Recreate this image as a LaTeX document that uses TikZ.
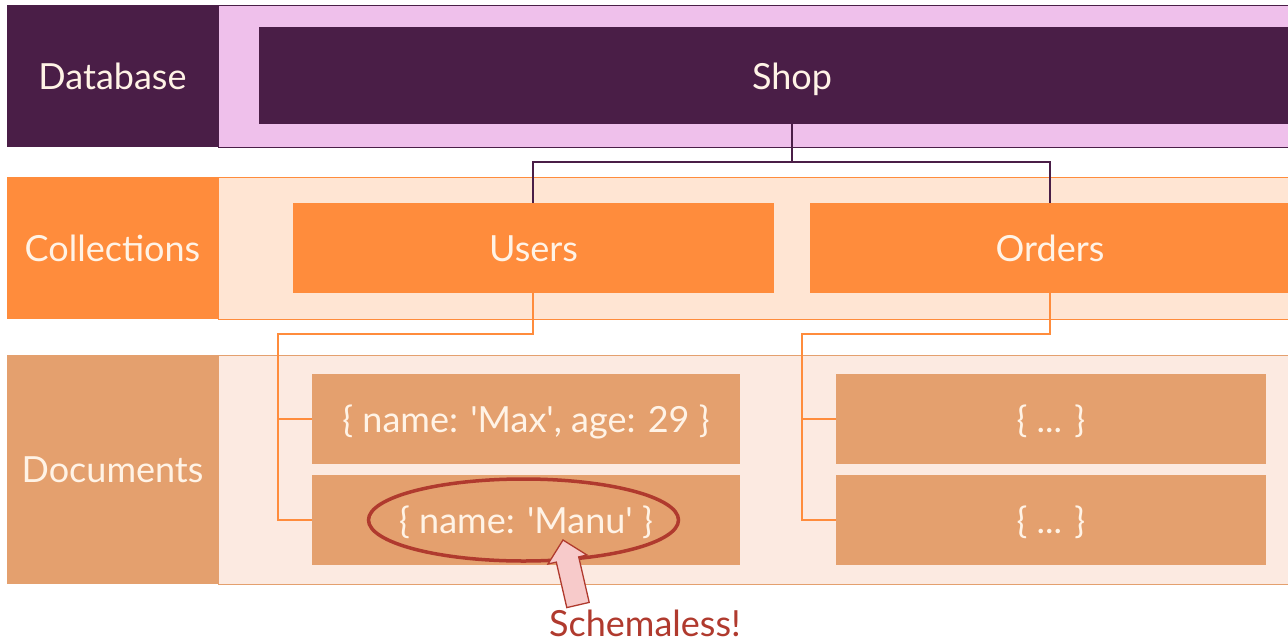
\documentclass[tikz,border=0pt]{standalone}
\usepackage{fontspec}
\setmainfont{Lato}
\definecolor{dbdark}{HTML}{4A1E47}
\definecolor{dbpink}{HTML}{EFC0EB}
\definecolor{colorange}{HTML}{FF8C3C}
\definecolor{collight}{HTML}{FFE5D3}
\definecolor{doctan}{HTML}{E4A06E}
\definecolor{doclight}{HTML}{FCEAE1}
\definecolor{txtcream}{HTML}{FFF3E6}
\definecolor{markred}{HTML}{B03A2E}
\definecolor{arrowpink}{HTML}{F7CACA}
\newcommand{\sq}{\textquotesingle}
\begin{document}
\begin{tikzpicture}[x=1pt,y=-1pt,
  lbl/.style={inner sep=0pt, outer sep=0pt, text=txtcream, text height=26pt, text depth=0pt, font=\fontsize{36}{40}\selectfont},
  boxnode/.style={lbl, anchor=north west},
  dbconn/.style={draw=dbdark, line width=2.2pt},
  colconn/.style={draw=colorange, line width=2.2pt},
]
\useasboundingbox (0,0) rectangle (1288,643);
\fill[white] (0,0) rectangle (1288,643);
% ---------- Database row
\filldraw[fill=dbpink, draw=dbdark, line width=1pt] (218,5) rectangle (1300,147);
\node[boxnode, fill=dbdark, minimum width=211pt, minimum height=142pt] (dblabel) at (7,5) {Database};
\node[boxnode, fill=dbdark, minimum width=1040pt, minimum height=97pt] (shop) at (259,27) {};
\node[lbl] (shoptext) at (792,76) {Shop};
% ---------- Collections row
\filldraw[fill=collight, draw=colorange, line width=1pt] (218,177) rectangle (1300,319);
\node[boxnode, fill=colorange, minimum width=211pt, minimum height=142pt] (collabel) at (7,177) {Collections};
\node[boxnode, fill=colorange, minimum width=481pt, minimum height=90pt] (users) at (293,203) {Users};
\node[boxnode, fill=colorange, minimum width=490pt, minimum height=90pt] (orders) at (810,203) {};
\node[lbl] (orderstext) at (1050,248) {Orders};
% ---------- Documents row
\filldraw[fill=doclight, draw=doctan, line width=1pt] (218,355) rectangle (1300,584);
\node[boxnode, fill=doctan, minimum width=211pt, minimum height=229pt] (doclabel) at (7,355) {Documents};
\node[boxnode, fill=doctan, minimum width=428pt, minimum height=90pt] (max) at (312,374) {\{ name: \sq Max\sq, age: 29 \}};
\node[boxnode, fill=doctan, minimum width=428pt, minimum height=90pt] (manu) at (312,475) {\{ name: \sq Manu\sq\ \}};
\node[boxnode, fill=doctan, minimum width=430pt, minimum height=90pt] (oa) at (836,374) {\{ ... \}};
\node[boxnode, fill=doctan, minimum width=430pt, minimum height=90pt] (ob) at (836,475) {\{ ... \}};
% ---------- connectors
\coordinate (shopb) at (792,124);
\coordinate (dbj) at (792,162);
\draw[dbconn] (shopb) -- (dbj);
\draw[dbconn] (users.north -| 533,0) |- (dbj) -| (orders.north -| 1050,0);
\coordinate (uj) at (533,334);
\coordinate (ul) at (278,334);
\draw[colconn] (users.south -| uj) -- (uj) -- (ul) |- (manu.west);
\draw[colconn] (ul |- max.west) -- (max.west);
\coordinate (oj) at (1050,334);
\coordinate (ol) at (802,334);
\draw[colconn] (orders.south -| oj) -- (oj) -- (ol) |- (ob.west);
\draw[colconn] (ol |- oa.west) -- (oa.west);
% ---------- highlight
\draw[markred, line width=3.5pt] (523.5,520) ellipse [x radius=155pt, y radius=41pt];
\coordinate (tip) at (563,540);
\filldraw[draw=markred, fill=arrowpink, line width=1.3pt, line join=miter]
  (tip) -- (587,555) -- (578.7,556.9) -- (589.2,602.4) -- (566.8,607.6) -- (556.3,562.1) -- (548,564) -- cycle;
\node[text=markred, inner sep=0pt, text height=26pt, text depth=0pt, font=\fontsize{36}{40}\selectfont] (schema) at (645,623) {Schemaless!};
\end{tikzpicture}
\end{document}
